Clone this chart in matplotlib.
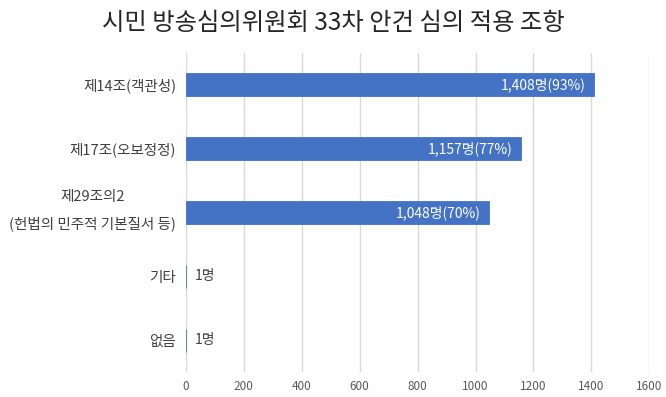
import matplotlib
matplotlib.use("Agg")
import matplotlib.pyplot as plt
import matplotlib.transforms as mtransforms

plt.rcParams['font.family'] = ['Noto Sans CJK KR', 'DejaVu Sans']

title = "시민 방송심의위원회 33차 안건 심의 적용 조항"
categories = ["제14조(객관성)", "제17조(오보정정)", "제29조의2\n(헌법의 민주적 기본질서 등)", "기타", "없음"]
values = [1408, 1157, 1048, 1, 1]
labels = ["1,408명(93%)", "1,157명(77%)", "1,048명(70%)", "1명", "1명"]
xticks = [0, 200, 400, 600, 800, 1000, 1200, 1400, 1600]

fig = plt.figure(figsize=(6.66, 3.97), dpi=100)
ax = fig.add_axes([0.279, 0.063, 0.696, 0.804])

ypos = list(range(len(categories)))
bars = ax.barh(ypos, values, height=0.36, color='#4472C4', edgecolor='#4472C4',
               linewidth=0.6, zorder=3)
ax.set_ylim(len(categories) - 0.5, -0.5)
ax.set_xlim(0, 1600)
ax.set_xticks(xticks)
ax.set_xticklabels([str(t) for t in xticks], fontsize=8.5, color='#595959')
ax.set_yticks(ypos)
ax.set_yticklabels(categories, fontsize=10.5, color='#404040', ha='right',
                   multialignment='center')
ax.tick_params(axis='y', length=0, pad=7)
ax.tick_params(axis='x', length=0, pad=6)
shift = mtransforms.ScaledTranslation(0, 6.5 / 72, fig.dpi_scale_trans)
for t in ax.get_yticklabels():
    if '\n' in t.get_text():
        t.set_linespacing(2.0)
        t.set_transform(t.get_transform() + shift)
for s in ax.spines.values():
    s.set_visible(False)
ax.grid(axis='x', color='#D9D9D9', linewidth=1, zorder=0)

for b, v, lab in zip(bars, values, labels):
    yc = b.get_y() + b.get_height() / 2
    if v > 100:
        ax.annotate(lab, (v, yc), xytext=(-6, 0), textcoords='offset points',
                    ha='right', va='center', color='white', fontsize=10, zorder=4)
    else:
        ax.annotate(lab, (v, yc), xytext=(6, 0), textcoords='offset points',
                    ha='left', va='center', color='#404040', fontsize=10, zorder=4)

fig.suptitle(title, y=0.975, fontsize=17.5, color='#262626')
fig.savefig("out.png", dpi=100, facecolor='white')
